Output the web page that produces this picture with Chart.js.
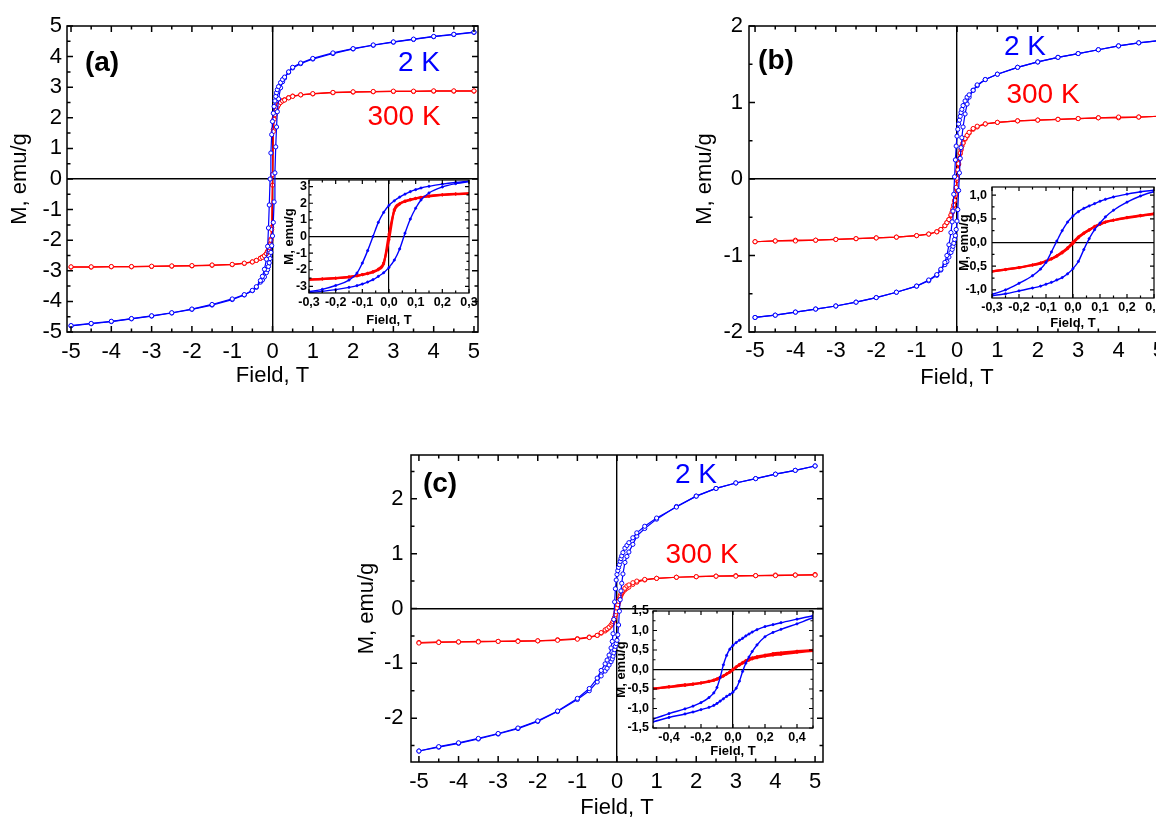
<!DOCTYPE html>
<html>
<head>
<meta charset="utf-8">
<script src="https://cdn.jsdelivr.net/npm/chart.js@4"></script>
<style>
html, body { margin: 0; padding: 0; background: #fff; overflow: hidden; width: 1156px; height: 819px; }
canvas { position: absolute; }
</style>
</head>
<body>
<canvas id="mainA"></canvas>
<canvas id="mainB"></canvas>
<canvas id="mainC"></canvas>
<canvas id="insetA"></canvas>
<canvas id="insetB"></canvas>
<canvas id="insetC"></canvas>
<script>
// field grid (T), shared by every branch
const field = [-5, -4.5, -4, -3.5, -3, -2.5, -2, -1.5, -1, -0.7, -0.5, -0.4, -0.3, -0.25, -0.2, -0.15, -0.12, -0.1, -0.08, -0.06, -0.04, -0.02,
    0, 0.02, 0.04, 0.06, 0.08, 0.1, 0.12, 0.15, 0.2, 0.25, 0.3, 0.4, 0.5, 0.7, 1, 1.5, 2, 2.5, 3, 3.5, 4, 4.5, 5];

// (a) M, emu/g
const a2Kdown = [-4.79, -4.72, -4.65, -4.56, -4.47, -4.37, -4.25, -4.1, -3.92, -3.78, -3.64, -3.52, -3.32, -3.18, -2.95, -2.62, -2.2, -1.6, -0.85, 0.0, 0.85, 1.45,
    1.88, 2.15, 2.37, 2.55, 2.7, 2.82, 2.92, 3.02, 3.15, 3.25, 3.33, 3.5, 3.65, 3.79, 3.94, 4.12, 4.26, 4.38, 4.48, 4.57, 4.66, 4.73, 4.8];
const a2Kup = [-4.8, -4.73, -4.66, -4.57, -4.48, -4.38, -4.26, -4.12, -3.94, -3.79, -3.65, -3.54, -3.37, -3.3, -3.2, -3.06, -2.96, -2.86, -2.74, -2.6, -2.4, -2.18,
    -1.86, -1.42, -0.75, 0.2, 1.05, 1.7, 2.2, 2.62, 2.98, 3.18, 3.3, 3.49, 3.63, 3.77, 3.92, 4.1, 4.25, 4.37, 4.47, 4.56, 4.65, 4.72, 4.79];
const a300down = [-2.87, -2.87, -2.86, -2.86, -2.85, -2.84, -2.83, -2.81, -2.79, -2.75, -2.71, -2.66, -2.59, -2.56, -2.51, -2.44, -2.37, -2.3, -2.24, -2.15, -2.0, -1.65,
    0.15, 1.55, 1.95, 2.1, 2.2, 2.28, 2.35, 2.42, 2.5, 2.55, 2.58, 2.65, 2.7, 2.75, 2.79, 2.83, 2.85, 2.86, 2.87, 2.87, 2.88, 2.88, 2.88];
const a300up = [-2.88, -2.88, -2.87, -2.87, -2.86, -2.85, -2.84, -2.82, -2.8, -2.76, -2.71, -2.66, -2.59, -2.55, -2.51, -2.43, -2.36, -2.29, -2.21, -2.11, -1.96, -1.58,
    -0.2, 1.62, 1.98, 2.14, 2.23, 2.3, 2.36, 2.44, 2.51, 2.56, 2.59, 2.66, 2.71, 2.75, 2.78, 2.82, 2.84, 2.85, 2.86, 2.86, 2.87, 2.87, 2.87];

// (b)
const b2Kdown = [-1.81, -1.78, -1.74, -1.7, -1.66, -1.61, -1.55, -1.48, -1.4, -1.32, -1.25, -1.18, -1.09, -1.0, -0.86, -0.7, -0.56, -0.42, -0.2, 0.03, 0.25, 0.43,
    0.56, 0.65, 0.72, 0.77, 0.82, 0.87, 0.91, 0.96, 1.02, 1.07, 1.1, 1.16, 1.23, 1.3, 1.37, 1.46, 1.53, 1.59, 1.64, 1.69, 1.74, 1.78, 1.81];
const b2Kup = [-1.81, -1.78, -1.74, -1.7, -1.66, -1.61, -1.55, -1.48, -1.4, -1.33, -1.26, -1.19, -1.12, -1.08, -1.02, -0.96, -0.92, -0.88, -0.84, -0.79, -0.74, -0.66,
    -0.55, -0.4, -0.15, 0.08, 0.27, 0.41, 0.54, 0.68, 0.85, 0.98, 1.07, 1.16, 1.22, 1.3, 1.37, 1.46, 1.53, 1.59, 1.64, 1.69, 1.74, 1.78, 1.81];
const b300down = [-0.82, -0.81, -0.81, -0.8, -0.79, -0.78, -0.77, -0.76, -0.74, -0.72, -0.69, -0.66, -0.61, -0.57, -0.53, -0.47, -0.43, -0.39, -0.34, -0.28, -0.2, -0.11,
    0.01, 0.12, 0.2, 0.27, 0.34, 0.39, 0.43, 0.47, 0.53, 0.57, 0.61, 0.66, 0.69, 0.72, 0.74, 0.76, 0.77, 0.78, 0.79, 0.8, 0.81, 0.81, 0.82];
const b300up = [-0.82, -0.81, -0.8, -0.8, -0.79, -0.78, -0.77, -0.76, -0.74, -0.72, -0.69, -0.66, -0.61, -0.57, -0.53, -0.48, -0.44, -0.4, -0.35, -0.29, -0.22, -0.13,
    -0.02, 0.1, 0.19, 0.26, 0.33, 0.38, 0.43, 0.47, 0.52, 0.56, 0.6, 0.65, 0.68, 0.72, 0.74, 0.76, 0.77, 0.78, 0.79, 0.8, 0.8, 0.81, 0.82];

// (c)
const c2Kdown = [-2.6, -2.52, -2.45, -2.37, -2.28, -2.18, -2.05, -1.87, -1.64, -1.46, -1.27, -1.13, -1.01, -0.94, -0.85, -0.72, -0.6, -0.46, -0.2, 0.12, 0.36, 0.52,
    0.62, 0.69, 0.75, 0.8, 0.86, 0.91, 0.96, 1.02, 1.1, 1.15, 1.2, 1.29, 1.38, 1.5, 1.65, 1.85, 2.05, 2.19, 2.29, 2.37, 2.45, 2.52, 2.6];
const c2Kup = [-2.6, -2.53, -2.46, -2.38, -2.29, -2.19, -2.06, -1.88, -1.66, -1.5, -1.34, -1.23, -1.14, -1.09, -1.03, -0.97, -0.92, -0.87, -0.81, -0.75, -0.69, -0.64,
    -0.58, -0.48, -0.3, -0.05, 0.16, 0.32, 0.46, 0.63, 0.84, 0.95, 1.03, 1.17, 1.32, 1.46, 1.63, 1.86, 2.05, 2.19, 2.29, 2.37, 2.45, 2.52, 2.6];
const c300down = [-0.63, -0.62, -0.61, -0.61, -0.6, -0.6, -0.59, -0.58, -0.56, -0.53, -0.49, -0.44, -0.39, -0.37, -0.34, -0.3, -0.27, -0.24, -0.2, -0.16, -0.11, -0.06,
    0.01, 0.07, 0.13, 0.18, 0.23, 0.27, 0.3, 0.33, 0.37, 0.41, 0.43, 0.47, 0.5, 0.53, 0.55, 0.57, 0.58, 0.59, 0.59, 0.6, 0.6, 0.61, 0.61];
const c300up = [-0.62, -0.61, -0.61, -0.6, -0.6, -0.59, -0.59, -0.57, -0.55, -0.52, -0.49, -0.45, -0.41, -0.38, -0.35, -0.31, -0.28, -0.25, -0.21, -0.17, -0.12, -0.07,
    -0.01, 0.06, 0.11, 0.16, 0.2, 0.24, 0.27, 0.3, 0.34, 0.37, 0.39, 0.44, 0.48, 0.52, 0.55, 0.57, 0.58, 0.59, 0.6, 0.6, 0.61, 0.61, 0.62];

// tick labels
const xTicksMain = [-5, -4, -3, -2, -1, 0, 1, 2, 3, 4, 5];
const yTicksA = [-5, -4, -3, -2, -1, 0, 1, 2, 3, 4, 5];
const yTicksB = [-2, -1, 0, 1, 2];
const yTicksC = [-2, -1, 0, 1, 2];
const xTicksInsetAB = [-0.3, -0.2, -0.1, 0, 0.1, 0.2, 0.3];
const yTicksInsetA = [-3, -2, -1, 0, 1, 2, 3];
const yTicksInsetB = [-1, -0.5, 0, 0.5, 1];
const xTicksInsetC = [-0.4, -0.2, 0, 0.2, 0.4];
const yTicksInsetC = [-1.5, -1, -0.5, 0, 0.5, 1, 1.5];

const BLUE = "#0000ff";
const RED = "#ff0000";
const FONT = "'Liberation Sans', Arial, Helvetica, sans-serif";

function intFmt(v) { return String(v); }
function commaFmt(v) { return v.toFixed(1).replace(".", ","); }

function stepsIn(min, max, step) {
    let out = [];
    for (let k = Math.ceil(min / step - 1e-9); k <= Math.floor(max / step + 1e-9); k++) out.push(k * step);
    return out;
}
function isMajor(v, step) {
    return Math.abs(v / step - Math.round(v / step)) < 1e-6;
}

// frame, inward ticks on all sides, and the text notes
const framePlugin = {
    id: "frame",
    afterDatasetsDraw(chart, args, o) {
        const ctx = chart.ctx;
        const a = chart.chartArea;
        const x = chart.scales.x, y = chart.scales.y;
        ctx.save();
        ctx.strokeStyle = "#000";
        ctx.lineWidth = o.lw;
        ctx.beginPath();
        stepsIn(x.min, x.max, o.xMinor).forEach(v => {
            const p = x.getPixelForValue(v);
            const len = isMajor(v, o.xMajor) ? o.major : o.minor;
            ctx.moveTo(p, a.bottom); ctx.lineTo(p, a.bottom - len);
            ctx.moveTo(p, a.top); ctx.lineTo(p, a.top + len);
        });
        stepsIn(y.min, y.max, o.yMinor).forEach(v => {
            const p = y.getPixelForValue(v);
            const len = isMajor(v, o.yMajor) ? o.major : o.minor;
            ctx.moveTo(a.left, p); ctx.lineTo(a.left + len, p);
            ctx.moveTo(a.right, p); ctx.lineTo(a.right - len, p);
        });
        ctx.stroke();
        ctx.strokeRect(a.left, a.top, a.right - a.left, a.bottom - a.top);

        ctx.textAlign = "center";
        ctx.textBaseline = "middle";
        (o.notes || []).forEach(n => {
            ctx.font = n.font;
            ctx.fillStyle = n.color;
            ctx.fillText(n.text, n.x - o.ox, n.y - o.oy);
        });
        ctx.restore();
    }
};

function series(ys, color, inset) {
    let ds = {
        data: field.map((x, i) => ({ x: x, y: ys[i] })),
        showLine: true,
        borderColor: color,
        pointBorderColor: color
    };
    if (inset) {
        ds.borderWidth = color === RED ? 2.2 : 1.4;
        ds.pointRadius = 1.1;
        ds.pointBorderWidth = 0.8;
        ds.pointBackgroundColor = color;
        ds.cubicInterpolationMode = "monotone";
    } else {
        ds.borderWidth = 1.2;
        ds.pointRadius = 2.1;
        ds.pointBorderWidth = 1;
        ds.pointBackgroundColor = "#fff";
    }
    return ds;
}

function makePanel(id, c) {
    const tickLH = c.tickSize * 1.2;
    const titleLH = c.titleSize * 1.2;
    const left = Math.floor(c.yTitleX - titleLH / 2);
    const top = c.area.t - 24;
    const right = c.area.r + 24;
    const bottom = Math.ceil(c.xTitleY + titleLH / 2);

    let cv = document.getElementById(id);
    cv.width = right - left;
    cv.height = bottom - top;
    cv.style.left = left + "px";
    cv.style.top = top + "px";

    const weight = c.bold ? "bold" : "normal";
    const tickFont = { family: FONT, size: c.tickSize, weight: weight };
    const titleFont = { family: FONT, size: c.titleSize, weight: weight };
    const zeroColor = g => (g.tick && Math.abs(g.tick.value) < 1e-9) ? "#000" : "rgba(0,0,0,0)";

    new Chart(cv, {
        type: "scatter",
        data: { datasets: c.datasets },
        options: {
            responsive: false,
            animation: false,
            layout: { padding: { left: 0, top: c.area.t - top, right: right - c.area.r, bottom: 0 } },
            plugins: {
                legend: { display: false },
                tooltip: { enabled: false },
                frame: {
                    lw: c.frameWidth, major: c.majorLen, minor: c.minorLen,
                    xMinor: c.xMinor, xMajor: c.xMajor, yMinor: c.yMinor, yMajor: c.yMajor,
                    notes: c.notes, ox: left, oy: top
                }
            },
            scales: {
                x: {
                    type: "linear", min: c.xMin, max: c.xMax,
                    afterBuildTicks: s => { s.ticks = c.xTicks.map(v => ({ value: v })); },
                    afterFit: s => { s.height = bottom - c.area.b; },
                    ticks: {
                        font: tickFont, color: "#000", autoSkip: false, maxRotation: 0,
                        padding: c.xLabelY - c.area.b - tickLH / 2,
                        callback: v => c.xFmt(v)
                    },
                    grid: { drawTicks: false, color: zeroColor, lineWidth: c.zeroWidth },
                    border: { display: false },
                    title: {
                        display: true, text: "Field, T", font: titleFont, color: "#000",
                        padding: { top: 0, bottom: bottom - titleLH / 2 - c.xTitleY }
                    }
                },
                y: {
                    type: "linear", min: c.yMin, max: c.yMax,
                    afterBuildTicks: s => { s.ticks = c.yTicks.map(v => ({ value: v })); },
                    afterFit: s => { s.width = c.area.l - left; },
                    ticks: {
                        font: tickFont, color: "#000", autoSkip: false,
                        padding: c.yLabelPad,
                        callback: v => c.yFmt(v)
                    },
                    grid: { drawTicks: false, color: zeroColor, lineWidth: c.zeroWidth },
                    border: { display: false },
                    title: {
                        display: true, text: "M, emu/g", font: titleFont, color: "#000",
                        padding: { top: c.yTitleX - left - titleLH / 2, bottom: 0 }
                    }
                }
            }
        },
        plugins: [framePlugin]
    });
}

function loops(d2, u2, d3, u3, inset) {
    return [series(d2, BLUE, inset), series(u2, BLUE, inset), series(d3, RED, inset), series(u3, RED, inset)];
}

const mainStyle = { tickSize: 22, titleSize: 22, bold: false, frameWidth: 1.5, zeroWidth: 1.4, majorLen: 6, minorLen: 3.5,
    xMinor: 0.5, xMajor: 1, yMinor: 0.5, yMajor: 1, xTicks: xTicksMain, xFmt: intFmt, yFmt: intFmt };
const insetStyle = { tickSize: 12.5, titleSize: 13, bold: true, frameWidth: 1.2, zeroWidth: 1.2, majorLen: 4, minorLen: 2.5, xFmt: commaFmt };
const bigLabel = "bold 28px " + FONT;
const tempLabel = "28px " + FONT;

makePanel("mainA", Object.assign({}, mainStyle, {
    area: { l: 67, t: 26, r: 478, b: 332 }, xMin: -5.1, xMax: 5.1, yMin: -5, yMax: 5, yTicks: yTicksA,
    yTitleX: 20, xTitleY: 376, xLabelY: 351.7, yLabelPad: 5,
    datasets: loops(a2Kdown, a2Kup, a300down, a300up, false),
    notes: [
        { text: "(a)", x: 102, y: 63, font: bigLabel, color: "#000" },
        { text: "2 K", x: 419, y: 63, font: tempLabel, color: BLUE },
        { text: "300 K", x: 404, y: 117, font: tempLabel, color: RED }
    ]
}));

makePanel("mainB", Object.assign({}, mainStyle, {
    area: { l: 749, t: 26, r: 1165, b: 332 }, xMin: -5.15, xMax: 5.15, yMin: -2, yMax: 2, yTicks: yTicksB,
    yTitleX: 705, xTitleY: 378, xLabelY: 351, yLabelPad: 6,
    datasets: loops(b2Kdown, b2Kup, b300down, b300up, false),
    notes: [
        { text: "(b)", x: 776, y: 61, font: bigLabel, color: "#000" },
        { text: "2 K", x: 1025, y: 47, font: tempLabel, color: BLUE },
        { text: "300 K", x: 1043, y: 95, font: tempLabel, color: RED }
    ]
}));

makePanel("mainC", Object.assign({}, mainStyle, {
    area: { l: 411, t: 455, r: 823, b: 762 }, xMin: -5.2, xMax: 5.2, yMin: -2.8, yMax: 2.8, yTicks: yTicksC,
    yTitleX: 367, xTitleY: 808, xLabelY: 781.7, yLabelPad: 7.5,
    datasets: loops(c2Kdown, c2Kup, c300down, c300up, false),
    notes: [
        { text: "(c)", x: 440, y: 484, font: bigLabel, color: "#000" },
        { text: "2 K", x: 696, y: 475, font: tempLabel, color: BLUE },
        { text: "300 K", x: 702, y: 555, font: tempLabel, color: RED }
    ]
}));

makePanel("insetA", Object.assign({}, insetStyle, {
    area: { l: 309, t: 180, r: 469, b: 293 }, xMin: -0.3, xMax: 0.3, yMin: -3.4, yMax: 3.4,
    xTicks: xTicksInsetAB, yTicks: yTicksInsetA, yFmt: intFmt,
    xMinor: 0.05, xMajor: 0.1, yMinor: 0.5, yMajor: 1,
    yTitleX: 289, xTitleY: 320, xLabelY: 303, yLabelPad: 2,
    datasets: loops(a2Kdown, a2Kup, a300down, a300up, true)
}));

makePanel("insetB", Object.assign({}, insetStyle, {
    area: { l: 992, t: 187, r: 1154, b: 298 }, xMin: -0.3, xMax: 0.3, yMin: -1.17, yMax: 1.17,
    xTicks: xTicksInsetAB, yTicks: yTicksInsetB, yFmt: commaFmt,
    xMinor: 0.05, xMajor: 0.1, yMinor: 0.25, yMajor: 0.5,
    yTitleX: 964, xTitleY: 323.5, xLabelY: 308, yLabelPad: 5,
    datasets: loops(b2Kdown, b2Kup, b300down, b300up, true)
}));

makePanel("insetC", Object.assign({}, insetStyle, {
    area: { l: 653, t: 611, r: 813, b: 728 }, xMin: -0.5, xMax: 0.5, yMin: -1.5, yMax: 1.5,
    xTicks: xTicksInsetC, yTicks: yTicksInsetC, yFmt: commaFmt,
    xMinor: 0.1, xMajor: 0.2, yMinor: 0.25, yMajor: 0.5,
    yTitleX: 621, xTitleY: 751.5, xLabelY: 737.5, yLabelPad: 4,
    datasets: loops(c2Kdown, c2Kup, c300down, c300up, true)
}));
</script>
</body>
</html>
